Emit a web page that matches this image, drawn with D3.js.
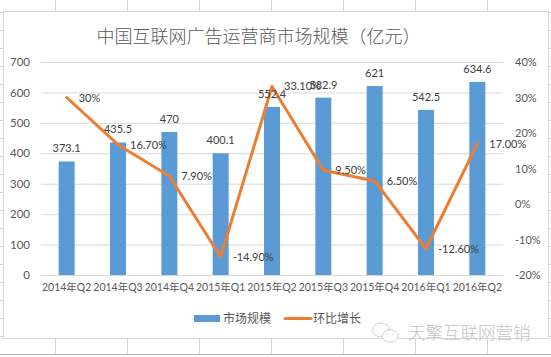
<!DOCTYPE html>
<html>
<head>
<meta charset="utf-8">
<script src="https://cdn.jsdelivr.net/npm/d3@7"></script>
<style>
  html, body { margin: 0; padding: 0; background: #fff; }
  svg { display: block; }
  text { font-family: Lato, "Noto Sans CJK SC", sans-serif; fill: #404040; }
</style>
</head>
<body>
<script>
const title = "中国互联网广告运营商市场规模（亿元）";
const quarters = ["2014年Q2", "2014年Q3", "2014年Q4", "2015年Q1", "2015年Q2", "2015年Q3", "2015年Q4", "2016年Q1", "2016年Q2"];
const marketSize = [373.1, 435.5, 470, 400.1, 552.4, 582.9, 621, 542.5, 634.6];
const marketLabels = ["373.1", "435.5", "470", "400.1", "552.4", "582.9", "621", "542.5", "634.6"];
const growth = [30, 16.7, 7.9, -14.9, 33.1, 9.5, 6.5, -12.6, 17];
const growthLabels = ["30%", "16.70%", "7.90%", "-14.90%", "33.10%", "9.50%", "6.50%", "-12.60%", "17.00%"];
const leftTicks = [0, 100, 200, 300, 400, 500, 600, 700];
const rightTicks = [-20, -10, 0, 10, 20, 30, 40];
const seriesNames = ["市场规模", "环比增长"];
const watermark = "天擎互联网营销";

const width = 551, height = 357;
const margin = {top: 62, right: 48, bottom: 82, left: 41};
const blue = "#5b9bd5", orange = "#ed7d31", grid = "#d9d9d9", muted = "#595959";

const svg = d3.select("body").append("svg")
    .attr("width", width)
    .attr("height", height);

// spreadsheet cells behind the chart
const sheet = svg.append("g").attr("stroke", "#d4d4d4").attr("fill", "none");
sheet.selectAll(".col")
  .data(d3.range(55.5, width, 72))
  .join("line")
    .attr("x1", d => d).attr("x2", d => d)
    .attr("y1", 0).attr("y2", height - 3);
sheet.selectAll(".row")
  .data(d3.range(12.5, height - 10, 18))
  .join("line")
    .attr("x1", 0).attr("x2", width)
    .attr("y1", d => d).attr("y2", d => d);
svg.append("rect")
    .attr("x", 0).attr("y", height - 3)
    .attr("width", width).attr("height", 1)
    .attr("fill", "#b0b0b0");

svg.append("rect")
    .attr("x", 3.5).attr("y", 11.5)
    .attr("width", 545).attr("height", 327)
    .attr("fill", "#fff")
    .attr("stroke", "#d9d9d9");

const x = d3.scaleBand()
    .domain(quarters)
    .range([margin.left, width - margin.right]);

const y = d3.scaleLinear()
    .domain([0, 700])
    .range([height - margin.bottom, margin.top]);

const y2 = d3.scaleLinear()
    .domain([-20, 40])
    .range([height - margin.bottom, margin.top]);

const barWidth = 16;
const cx = d => x(d) + x.bandwidth() / 2;

svg.append("g")
    .attr("transform", `translate(${margin.left},0)`)
    .call(d3.axisLeft(y).tickValues(leftTicks).tickSize(-(width - margin.left - margin.right)).tickPadding(11))
    .call(g => g.select(".domain").remove())
    .call(g => g.selectAll(".tick line").attr("stroke", grid))
    .call(g => g.selectAll(".tick text").attr("font-size", 11.5).style("fill", muted));

svg.append("g")
    .attr("transform", `translate(${width - margin.right},0)`)
    .call(d3.axisRight(y2).tickValues(rightTicks).tickSize(0).tickPadding(12).tickFormat(d => d + "%"))
    .call(g => g.select(".domain").remove())
    .call(g => g.selectAll(".tick text").attr("font-size", 11).style("fill", muted));

svg.append("g")
    .attr("transform", `translate(0,${height - margin.bottom})`)
    .call(d3.axisBottom(x).tickSize(0).tickPadding(9))
    .call(g => g.select(".domain").attr("stroke", grid))
    .call(g => g.selectAll(".tick text").attr("font-size", 10.5).style("fill", muted));

svg.append("g")
    .attr("fill", blue)
  .selectAll("rect")
  .data(marketSize)
  .join("rect")
    .attr("x", (d, i) => cx(quarters[i]) - barWidth / 2)
    .attr("y", d => y(d))
    .attr("width", barWidth)
    .attr("height", d => y(0) - y(d));

const line = d3.line()
    .x((d, i) => cx(quarters[i]))
    .y(d => y2(d));

svg.append("path")
    .datum(growth)
    .attr("fill", "none")
    .attr("stroke", orange)
    .attr("stroke-width", 3)
    .attr("stroke-linejoin", "round")
    .attr("stroke-linecap", "round")
    .attr("d", line);

svg.append("g")
  .selectAll("text")
  .data(marketSize)
  .join("text")
    .attr("x", (d, i) => cx(quarters[i]))
    .attr("y", d => y(d) - 9)
    .attr("text-anchor", "middle")
    .attr("font-size", 11)
    .text((d, i) => marketLabels[i]);

svg.append("g")
  .selectAll("text")
  .data(growth)
  .join("text")
    .attr("x", (d, i) => cx(quarters[i]) + 12)
    .attr("y", d => y2(d) + 4)
    .attr("font-size", 11)
    .text((d, i) => growthLabels[i]);

svg.append("text")
    .attr("x", 258.5)
    .attr("y", 43)
    .attr("text-anchor", "middle")
    .attr("font-size", 18)
    .attr("font-weight", 300)
    .style("fill", muted)
    .text(title);

// legend
svg.append("rect")
    .attr("x", 194).attr("y", 315)
    .attr("width", 26).attr("height", 7)
    .attr("fill", blue);
svg.append("text")
    .attr("x", 223).attr("y", 323)
    .attr("font-size", 12)
    .style("fill", muted)
    .text(seriesNames[0]);
svg.append("line")
    .attr("x1", 285).attr("x2", 311)
    .attr("y1", 318.5).attr("y2", 318.5)
    .attr("stroke", orange)
    .attr("stroke-width", 3)
    .attr("stroke-linecap", "round");
svg.append("text")
    .attr("x", 313).attr("y", 323)
    .attr("font-size", 12)
    .style("fill", muted)
    .text(seriesNames[1]);

// watermark
const mark = svg.append("g")
    .attr("fill", "#fff")
    .attr("stroke", "#d0d0d0")
    .attr("stroke-width", 1);
mark.append("ellipse").attr("cx", 381).attr("cy", 330).attr("rx", 8.5).attr("ry", 7);
mark.append("ellipse").attr("cx", 390).attr("cy", 336).attr("rx", 8).attr("ry", 6);
mark.selectAll("circle")
  .data([[387, 334], [393, 334]])
  .join("circle")
    .attr("cx", d => d[0]).attr("cy", d => d[1])
    .attr("r", 0.7)
    .attr("fill", "#c8c8c8")
    .attr("stroke", "none");
svg.append("text")
    .attr("x", 408).attr("y", 339)
    .attr("font-size", 17.5)
    .attr("font-weight", 300)
    .style("fill", "#c4c4c4")
    .text(watermark);
</script>
</body>
</html>
